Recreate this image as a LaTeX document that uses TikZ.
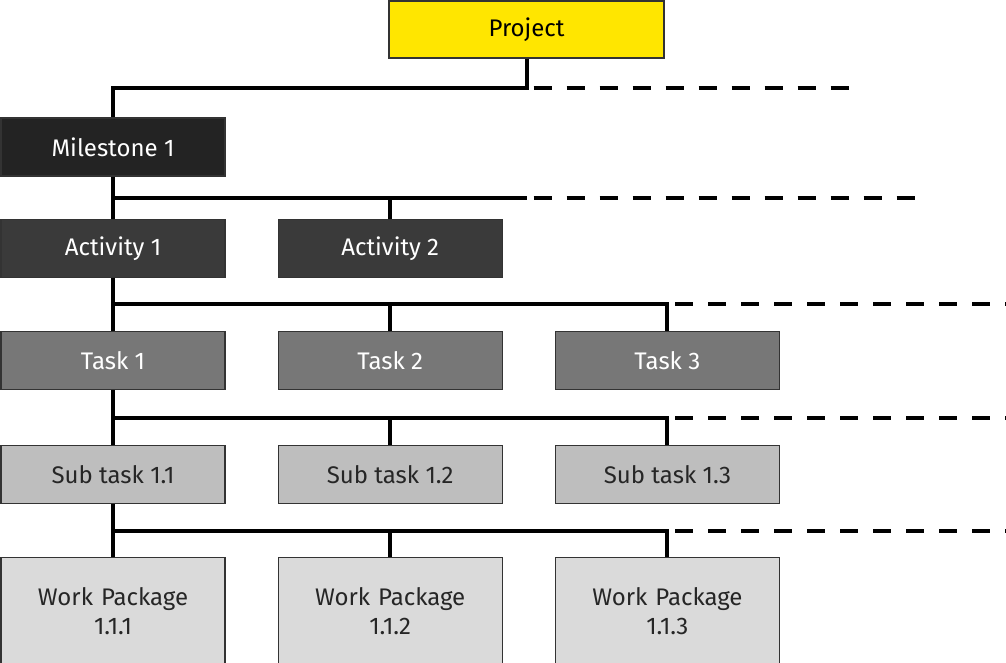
\documentclass[tikz,border=0pt]{standalone}
\usepackage{fontspec}
\setmainfont{Fira Sans}
\usetikzlibrary{matrix,calc}

\definecolor{projyellow}{HTML}{FFE600}
\definecolor{msgray}{HTML}{232323}
\definecolor{actgray}{HTML}{3A3A3A}
\definecolor{taskgray}{HTML}{777777}
\definecolor{subgray}{HTML}{BEBEBE}
\definecolor{wpgray}{HTML}{DADADA}

\newcommand{\wptext}[1]{Work Package\par #1}

\begin{document}
\begin{tikzpicture}[
		box/.style={draw=black!80,line width=0.6pt,minimum width=112pt,minimum height=29pt,inner sep=0pt,font=\fontsize{12}{14.5}\selectfont},
		ms/.style={box,fill=msgray,text=white},
		act/.style={box,fill=actgray,text=white},
		task/.style={box,fill=taskgray,text=white},
		sub/.style={box,fill=subgray,text=black!85},
		wp/.style={box,fill=wpgray,text=black!85,minimum height=53pt,text width=110pt,align=center},
		link/.style={line width=2pt},
		open/.style={line width=2pt,dash pattern=on 9pt off 7.5pt}]
		\useasboundingbox (0,0) rectangle (503pt,-331.5pt);
		\coordinate (edge) at (503pt,0);
		
		\node[box,fill=projyellow,minimum width=137.5pt,minimum height=28.5pt] (proj) at (263.25pt,-14.75pt) {Project};
		
		\matrix (m) [matrix of nodes, anchor=north west, inner sep=0pt,
		column sep=26pt, row sep=26.5pt, nodes={anchor=center}
		] at (0,-58.5pt)
		{
			|[ms]| Milestone 1 & & \\[-5.5pt]
			|[act]| Activity 1 & |[act]| Activity 2 & \\
			|[task]| Task 1 & |[task]| Task 2 & |[task]| Task 3 \\[1pt]
			|[sub]| Sub task 1.1 & |[sub]| Sub task 1.2 & |[sub]| Sub task 1.3 \\[0pt]
			|[wp]| \wptext{1.1.1} & |[wp]| \wptext{1.1.2} & |[wp]| \wptext{1.1.3} \\
		};
		
		% project -> milestone
		\coordinate (b0) at ($(proj.south)!0.5!(proj.south |- m-1-1.north)$);
		\coordinate (e0) at ($(b0)+(161pt,0)$);
		\draw[link] (proj.south) -- (b0) -| (m-1-1.north);
		\draw[open,shorten <=3.5pt] (b0) -- (e0);
		
		% milestone -> activities
		\coordinate (b1) at ($(m-1-1.south)!0.5!(m-2-1.north)$);
		\coordinate (s1) at (b1 -| proj.south);
		\coordinate (e1) at ($(s1)+(194pt,0)$);
		\draw[link] (m-1-1.south) -- (m-2-1.north);
		\draw[link] (b1) -- (s1) (b1 -| m-2-2.north) -- (m-2-2.north);
		\draw[open,shorten <=3.5pt] (s1) -- (e1);
		
		% activity -> tasks
		\coordinate (b2) at ($(m-2-1.south)!0.5!(m-3-1.north)$);
		\coordinate (e2) at (b2 -| edge);
		\draw[link] (m-2-1.south) -- (m-3-1.north);
		\draw[link] (b2) -| (m-3-3.north) (b2 -| m-3-2.north) -- (m-3-2.north);
		\draw[open,shorten <=4pt] (b2 -| m-3-3.north) -- (e2);
		
		% task -> sub tasks
		\coordinate (b3) at ($(m-3-1.south)!0.5!(m-4-1.north)$);
		\coordinate (e3) at (b3 -| edge);
		\draw[link] (m-3-1.south) -- (m-4-1.north);
		\draw[link] (b3) -| (m-4-3.north) (b3 -| m-4-2.north) -- (m-4-2.north);
		\draw[open,shorten <=4pt] (b3 -| m-4-3.north) -- (e3);
		
		% sub task -> work packages
		\coordinate (b4) at ($(m-4-1.south)!0.5!(m-5-1.north)$);
		\coordinate (e4) at (b4 -| edge);
		\draw[link] (m-4-1.south) -- (m-5-1.north);
		\draw[link] (b4) -| (m-5-3.north) (b4 -| m-5-2.north) -- (m-5-2.north);
		\draw[open,shorten <=4pt] (b4 -| m-5-3.north) -- (e4);
	\end{tikzpicture}
\end{document}
